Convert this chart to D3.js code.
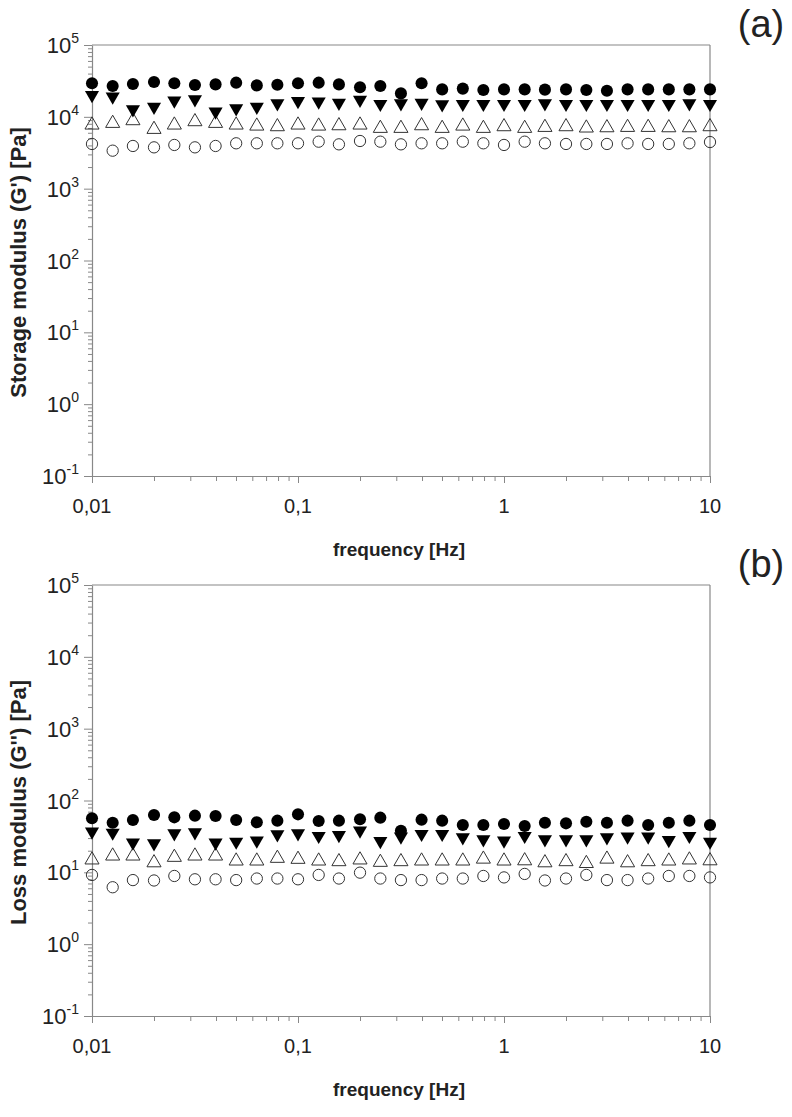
<!DOCTYPE html>
<html>
<head>
<meta charset="utf-8">
<script src="https://cdn.jsdelivr.net/npm/d3@7/dist/d3.min.js"></script>
<style>
  body { margin: 0; background: #fff; }
  text { font-family: "Liberation Sans Narrow", "Arial Narrow", "Liberation Sans", Arial, sans-serif; fill: #222; }
</style>
</head>
<body>
<svg id="chart" width="792" height="1117"></svg>
<script>
// Frequencies of the sweep [Hz], 10 points per decade.
const frequency = [
  0.01, 0.0126, 0.0158, 0.02, 0.0251, 0.0316, 0.0398, 0.0501, 0.0631, 0.0794,
  0.1, 0.126, 0.158, 0.2, 0.251, 0.316, 0.398, 0.501, 0.631, 0.794,
  1, 1.26, 1.58, 2, 2.51, 3.16, 3.98, 5.01, 6.31, 7.94, 10
];

// Storage modulus G' [Pa].
const storageFilledCircle = [
  29300, 26900, 28700, 30500, 29300, 27700, 28300, 29900, 27400, 28000,
  29300, 29900, 28300, 25800, 26900, 21200, 29300, 24100, 24700, 23600,
  24100, 24100, 23900, 24100, 23600, 23100, 24100, 24100, 24100, 24100, 24100
];
const storageFilledTriangle = [
  20100, 19100, 12700, 13800, 16800, 17500, 11800, 13100, 13800, 15400,
  16600, 16300, 15700, 17200, 15100, 15400, 15700, 14900, 15100, 15100,
  15100, 15100, 15400, 15100, 15100, 15100, 15100, 15100, 15100, 15400, 15100
];
const storageOpenTriangle = [
  7700, 8120, 8850, 6700, 7700, 8570, 8120, 7700, 7450, 7300,
  7700, 7450, 7530, 7700, 6920, 6920, 7530, 6920, 7450, 6920,
  7300, 6920, 7140, 7300, 7000, 7060, 7140, 7140, 7060, 7060, 7300
];
const storageOpenCircle = [
  4190, 3380, 3930, 3760, 4060, 3760, 3930, 4280, 4280, 4280,
  4280, 4510, 4140, 4610, 4510, 4140, 4280, 4280, 4510, 4280,
  4060, 4510, 4280, 4190, 4190, 4190, 4280, 4190, 4190, 4280, 4460
];

// Loss modulus G'' [Pa].
const lossFilledCircle = [
  56.5, 49.1, 53.5, 62.9, 58.3, 61.5, 60.8, 53.5, 49.7, 52.4,
  64.2, 51.8, 52.4, 54.7, 57.7, 38.0, 54.1, 52.4, 45.6, 45.6,
  47.1, 44.2, 49.1, 48.1, 50.7, 49.1, 52.4, 45.6, 49.1, 52.4, 45.6
];
const lossFilledTriangle = [
  36.8, 35.6, 25.9, 25.4, 34.9, 36.0, 25.9, 26.7, 27.6, 33.8,
  34.9, 32.1, 33.1, 38.0, 27.3, 31.4, 34.2, 34.2, 30.7, 28.8,
  27.6, 32.1, 28.8, 28.8, 28.8, 30.7, 31.4, 31.4, 28.2, 32.1, 26.7
];
const lossOpenTriangle = [
  14.9, 16.9, 16.9, 13.6, 16.2, 16.9, 16.9, 14.4, 14.4, 15.7,
  15.2, 14.4, 14.1, 14.9, 13.8, 14.1, 14.4, 14.4, 14.4, 15.3,
  14.4, 14.5, 13.6, 14.1, 13.3, 15.3, 13.6, 14.1, 14.4, 14.9, 14.5
];
const lossOpenCircle = [
  9.2, 6.2, 7.8, 7.7, 8.9, 8.0, 8.0, 7.8, 8.2, 8.2,
  8.0, 9.2, 8.2, 9.9, 8.2, 7.8, 7.8, 8.2, 8.2, 8.9,
  8.5, 9.5, 7.7, 8.2, 9.2, 7.8, 7.8, 8.2, 8.9, 8.9, 8.5
];

// Axis ticks and labels.
const yDecades   = [ 0.1, 1, 10, 100, 1000, 10000, 100000 ];
const yExponents = [ '-1', '0', '1', '2', '3', '4', '5' ];
const xDecades   = [ 0.01, 0.1, 1, 10 ];
const xLabels    = [ '0,01', '0,1', '1', '10' ];

const svg = d3.select( '#chart' );

// Plot frame, shared by both panels.
const left = 92, right = 710, plotHeight = 431;
const x = d3.scaleLog().domain( [ 0.01, 10 ] ).range( [ left, right ] );

// 1..9 x each decade, for the log ticks
const logTicks = ( decades ) => {
  const out = [];
  decades.slice( 0, -1 ).forEach( d => { for ( let k = 1; k < 10; k++ ) out.push( d * k ); } );
  out.push( decades[ decades.length - 1 ] );
  return out;
};
const isMajor = v => Math.abs( Math.log10( v ) - Math.round( Math.log10( v ) ) ) < 1e-6;

function drawPanel ( opts ) {
  const top = opts.top;
  const y = d3.scaleLog().domain( [ 0.1, 1e5 ] ).range( [ top + plotHeight, top ] );
  const g = svg.append( 'g' );

  // frame: top and right lines
  g.append( 'line' ).attr( 'x1', left ).attr( 'x2', right ).attr( 'y1', top ).attr( 'y2', top )
    .attr( 'stroke', '#888' ).attr( 'stroke-width', 1.2 );
  g.append( 'line' ).attr( 'x1', right ).attr( 'x2', right ).attr( 'y1', top ).attr( 'y2', top + plotHeight )
    .attr( 'stroke', '#888' ).attr( 'stroke-width', 1.2 );

  // y axis
  const yAxis = g.append( 'g' )
    .attr( 'transform', `translate(${left},0)` )
    .call( d3.axisLeft( y ).tickValues( logTicks( yDecades ) ).tickFormat( '' ).tickSizeOuter( 0 ) );
  yAxis.select( '.domain' ).attr( 'stroke', '#888' ).attr( 'stroke-width', 1.2 );
  yAxis.selectAll( '.tick line' )
    .attr( 'stroke', '#888' )
    .attr( 'x2', d => isMajor( d ) ? -8 : -4 );

  const yLab = g.selectAll( '.ylab' ).data( yDecades ).enter().append( 'text' )
    .attr( 'class', 'ylab' )
    .attr( 'x', left - 13 )
    .attr( 'y', d => y( d ) + 8 )
    .attr( 'text-anchor', 'end' )
    .style( 'font-size', '22px' );
  yLab.append( 'tspan' ).text( '10' );
  yLab.append( 'tspan' )
    .attr( 'dy', -10 )
    .style( 'font-size', '14px' )
    .text( ( d, i ) => yExponents[ i ] );

  // x axis
  const xAxis = g.append( 'g' )
    .attr( 'transform', `translate(0,${top + plotHeight})` )
    .call( d3.axisBottom( x ).tickValues( logTicks( xDecades ) ).tickFormat( '' ).tickSizeOuter( 0 ) );
  xAxis.select( '.domain' ).attr( 'stroke', '#888' ).attr( 'stroke-width', 1.2 );
  xAxis.selectAll( '.tick line' )
    .attr( 'stroke', '#888' )
    .attr( 'y2', d => isMajor( d ) ? 7 : 5 );

  g.selectAll( '.xlab' ).data( xDecades ).enter().append( 'text' )
    .attr( 'x', d => x( d ) )
    .attr( 'y', top + plotHeight + 37 )
    .attr( 'text-anchor', 'middle' )
    .style( 'font-size', '20px' )
    .text( ( d, i ) => xLabels[ i ] );

  // axis titles and panel letter
  g.append( 'text' )
    .attr( 'x', ( left + right ) / 2 - 2 )
    .attr( 'y', top + plotHeight + 80 )
    .attr( 'text-anchor', 'middle' )
    .style( 'font-size', '19px' )
    .style( 'font-weight', 'bold' )
    .text( 'frequency [Hz]' );
  g.append( 'text' )
    .attr( 'transform', `translate(26,${top + plotHeight / 2 + 2}) rotate(-90)` )
    .attr( 'text-anchor', 'middle' )
    .style( 'font-size', '22px' )
    .style( 'font-weight', 'bold' )
    .text( opts.title );
  g.append( 'text' )
    .attr( 'x', 761 )
    .attr( 'y', top - 8 )
    .attr( 'text-anchor', 'middle' )
    .style( 'font-family', '"Liberation Sans", Arial, sans-serif' )
    .style( 'font-size', '38px' )
    .text( opts.letter );

  // markers, open ones first so the filled ones sit on top
  const symbols = [
    { values: opts.series[ 3 ], type: d3.symbolCircle,   size: 100, fill: 'none', stroke: '#333', rotate: 0 },
    { values: opts.series[ 2 ], type: d3.symbolTriangle, size: 86,  fill: 'none', stroke: '#333', rotate: 0 },
    { values: opts.series[ 1 ], type: d3.symbolTriangle, size: 86,  fill: '#000', stroke: 'none', rotate: 180 },
    { values: opts.series[ 0 ], type: d3.symbolCircle,   size: 115, fill: '#000', stroke: 'none', rotate: 0 }
  ];
  symbols.forEach( s => {
    g.append( 'g' ).selectAll( 'path' )
      .data( frequency.map( ( f, i ) => ( { f: f, v: s.values[ i ] } ) ) )
      .enter().append( 'path' )
        .attr( 'd', d3.symbol().type( s.type ).size( s.size ) )
        .attr( 'transform', d => `translate(${x( d.f )},${y( d.v )}) rotate(${s.rotate})` )
        .attr( 'fill', s.fill )
        .attr( 'stroke', s.stroke )
        .attr( 'stroke-width', 1 );
  } );
}

drawPanel( {
  top: 45, letter: '(a)', title: "Storage modulus (G')  [Pa]",
  series: [ storageFilledCircle, storageFilledTriangle, storageOpenTriangle, storageOpenCircle ]
} );
drawPanel( {
  top: 585, letter: '(b)', title: "Loss modulus (G'')  [Pa]",
  series: [ lossFilledCircle, lossFilledTriangle, lossOpenTriangle, lossOpenCircle ]
} );
</script>
</body>
</html>
